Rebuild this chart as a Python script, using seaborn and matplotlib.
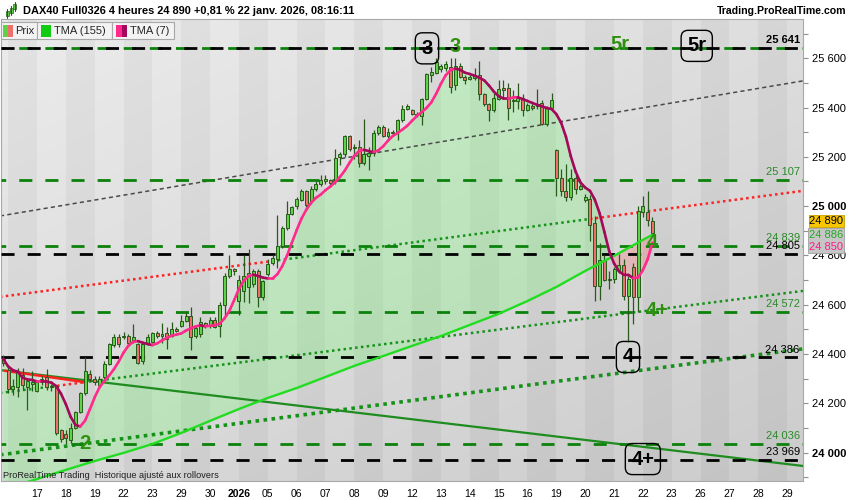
import numpy as np
import pandas as pd
import matplotlib
matplotlib.use("Agg")
import matplotlib.pyplot as plt
import seaborn as sns
from matplotlib.patches import Rectangle, Polygon
from matplotlib.collections import LineCollection

# ------------------------------------------------------------------ data
title = "DAX40 Full0326 4 heures 24 890 +0,81 % 22 janv. 2026, 08:16:11"
site = "Trading.ProRealTime.com"
footer = "ProRealTime Trading  Historique ajusté aux rollovers"

day_labels = ["", "17", "18", "19", "22", "23", "29", "30", "2026", "05", "06", "07",
              "08", "09", "12", "13", "14", "15", "16", "19", "20", "21", "22", "23",
              "26", "27", "28", "29"]
bars_per_day = 6

opens = [24365,
         24335, 24260, 24265, 24315, 24265, 24280,
         24250, 24285, 24305, 24270, 24270, 24090,
         24075, 24050, 24100, 24165, 24240, 24320,
         24300, 24275, 24305, 24360, 24435, 24470,
         24470, 24475, 24455, 24440, 24370, 24440,
         24450, 24485, 24475, 24485, 24475, 24500,
         24515, 24535, 24555, 24475, 24480, 24525,
         24515, 24540, 24515, 24600, 24715, 24745,
         24615, 24655, 24670, 24685, 24735, 24630,
         24725, 24770, 24785, 24840, 24910, 24970,
         25000, 25025, 25060, 25020, 25070, 25090,
         25100, 25105, 25100, 25200, 25210, 25285,
         25240, 25240, 25175, 25205, 25215, 25295,
         25320, 25285, 25300, 25300, 25350, 25395,
         25390, 25375, 25365, 25435, 25530, 25540,
         25555, 25560, 25565, 25490, 25570, 25525,
         25515, 25520, 25530, 25455, 25415, 25390,
         25435, 25480, 25480, 25430, 25425, 25440,
         25390, 25405, 25405, 25420, 25335, 25400,
         25228, 25115, 25060, 25035, 25115, 25070,
         25025, 25030, 24930, 24675, 24780, 24700,
         24705, 24740, 24760, 24635, 24755, 24630,
         24975, 24975, 24940]
highs = [24395,
         24350, 24300, 24345, 24345, 24300, 24330,
         24290, 24310, 24340, 24280, 24275, 24095,
         24090, 24120, 24170, 24245, 24390, 24335,
         24310, 24310, 24370, 24445, 24480, 24480,
         24490, 24480, 24520, 24445, 24445, 24480,
         24490, 24495, 24525, 24510, 24530, 24510,
         24560, 24570, 24590, 24515, 24550, 24530,
         24550, 24550, 24610, 24730, 24800, 24750,
         24720, 24800, 24825, 24745, 24745, 24700,
         24785, 24800, 24965, 24920, 25020, 25000,
         25035, 25070, 25065, 25080, 25100, 25125,
         25125, 25110, 25230, 25220, 25290, 25290,
         25250, 25270, 25355, 25240, 25310, 25330,
         25330, 25315, 25310, 25355, 25410, 25415,
         25395, 25380, 25440, 25540, 25565, 25600,
         25575, 25590, 25600, 25600, 25580, 25530,
         25530, 25560, 25590, 25460, 25420, 25460,
         25510, 25510, 25500, 25470, 25500, 25455,
         25420, 25415, 25475, 25430, 25405, 25460,
         25230, 25150, 25170, 25150, 25125, 25090,
         25050, 25045, 24960, 24850, 24800, 24735,
         24755, 24805, 24785, 24715, 24770, 25000,
         25040, 25060, 24955]
lows = [24350,
        24240, 24235, 24225, 24255, 24175, 24250,
        24245, 24275, 24255, 24250, 24070, 24045,
        24035, 24040, 24095, 24160, 24235, 24290,
        24275, 24270, 24300, 24355, 24430, 24430,
        24460, 24440, 24445, 24360, 24360, 24435,
        24445, 24465, 24445, 24420, 24470, 24490,
        24510, 24530, 24415, 24465, 24470, 24505,
        24505, 24505, 24470, 24555, 24710, 24720,
        24560, 24610, 24605, 24670, 24590, 24620,
        24715, 24760, 24750, 24830, 24905, 24965,
        24990, 25020, 24995, 25010, 25060, 25080,
        25090, 25085, 25090, 25165, 25200, 25225,
        25190, 25160, 25165, 25145, 25205, 25290,
        25280, 25275, 25285, 25270, 25340, 25390,
        25370, 25360, 25330, 25430, 25505, 25535,
        25545, 25550, 25460, 25470, 25520, 25495,
        25510, 25510, 25430, 25405, 25345, 25380,
        25430, 25440, 25350, 25380, 25395, 25365,
        25385, 25390, 25395, 25330, 25325, 25395,
        25040, 25040, 25020, 25025, 25050, 25065,
        25015, 24860, 24615, 24620, 24695, 24665,
        24690, 24730, 24620, 24450, 24520, 24570,
        24955, 24920, 24875]
closes = [24380,
          24260, 24270, 24330, 24275, 24290, 24285,
          24285, 24300, 24265, 24265, 24080, 24055,
          24060, 24100, 24165, 24240, 24330, 24300,
          24285, 24300, 24360, 24440, 24470, 24440,
          24475, 24445, 24470, 24365, 24440, 24470,
          24485, 24475, 24480, 24460, 24500, 24495,
          24535, 24555, 24470, 24505, 24530, 24515,
          24540, 24510, 24600, 24715, 24745, 24735,
          24700, 24715, 24730, 24735, 24630, 24695,
          24765, 24790, 24840, 24910, 24970, 24995,
          25030, 25060, 25005, 25070, 25090, 25105,
          25110, 25095, 25195, 25210, 25285, 25230,
          25235, 25175, 25210, 25215, 25295, 25320,
          25285, 25300, 25295, 25350, 25395, 25405,
          25375, 25370, 25435, 25535, 25545, 25585,
          25570, 25575, 25485, 25570, 25525, 25510,
          25525, 25530, 25455, 25415, 25390, 25440,
          25475, 25470, 25400, 25425, 25440, 25390,
          25410, 25400, 25415, 25335, 25400, 25430,
          25115, 25060, 25035, 25115, 25070, 25080,
          25035, 24925, 24675, 24780, 24700, 24705,
          24745, 24760, 24635, 24705, 24630, 24980,
          25000, 24945, 24890]

# TMA(155) at day starts (bar index, value)
tma155_idx = [0, 1, 7, 13, 19, 25, 31, 37, 43, 49, 55, 61, 67, 73, 79, 85, 91, 97,
              103, 109, 115, 121, 127, 133, 135]
tma155_val = [23848, 23857, 23893, 23930, 23966, 23999, 24035, 24080, 24129, 24177,
              24222, 24262, 24307, 24352, 24392, 24433, 24473, 24518, 24563, 24615,
              24672, 24737, 24798, 24863, 24884]

# horizontal levels
level_vals = [25641, 25641, 25107, 24839, 24805, 24572, 24386, 24036, 23969]
level_kind = ["black", "green", "green", "green", "black", "green", "black", "green", "black"]
level_text = ["25 641", "", "25 107", "24 839", "24 805", "24 572", "24 386", "24 036", "23 969"]

# trend lines (bar index, price) read at their ends / colour changes
up_dot_k = [-0.69, 55.9, 122.0, 166.3]
up_dot_p = [24632, 24777, 24948, 25062]
up_dot_c = ["red", "green", "red"]
lo_dot_k = [-0.69, 11.2, 16.6, 166.3]
lo_dot_p = [24242, 24271, 24285, 24656]
lo_dot_c = ["green", "red", "green"]
big_dot_k = [-0.69, 166.3]
big_dot_p = [23991, 24421]
gray_dash_k = [-0.69, 166.3]
gray_dash_p = [24960, 25508]
solid_green_k = [-0.69, 166.3]
solid_green_p = [24335, 23946]
solid_red_k = [0.35, 17.0]
solid_red_p = [24332, 24286]

# wave labels: (text, bar index, price, boxed)
wave_labels = [("3", 88.1, 25640, True), ("3", 93.9, 25646, False),
               ("5r", 128.2, 25654, False), ("5r", 144.2, 25650, True),
               ("4", 134.9, 24851, False), ("4+", 135.9, 24575, False),
               ("4", 129.9, 24388, True), ("4+", 133.0, 23974, True),
               ("2", 17.0, 24039, False)]

last_price = 24890
last_tma155 = 24886
last_tma7 = 24850

# ------------------------------------------------------------------ style
sns.set_theme(style="white")
plt.rcParams["font.family"] = ["Liberation Sans", "DejaVu Sans"]
plt.rcParams["lines.scale_dashes"] = False

GREEN_LVL = "#0b820b"
DOT_GREEN = "#16921a"
DOT_RED = "#ff2222"
EDGE = "#285a1c"
UP_FILL = "#5fd24a"
DN_FILL = "#ee6f6c"
PINK = "#ff2a8c"
DARKPINK = "#a3085a"
TMA155_C = "#22dc22"
LBL_GREEN = "#2f8f0f"


def fmt(v):
    return f"{int(v):,}".replace(",", " ")


W_PX, H_PX = 850, 500
fig = plt.figure(figsize=(8.5, 5), dpi=100, facecolor="white")
ax = fig.add_axes([1 / W_PX, 19 / H_PX, 802 / W_PX, 462 / H_PX])

x0, x1 = -0.48, 166.3
y0, y1 = 23885, 25759

# background: day bands with soft gradient
AW, AH = 802, 462
kk = x0 + (np.arange(AW) + 0.5) * (x1 - x0) / AW
dband = np.floor((kk - 1) / bars_per_day)
dark = (dband % 2 == 0).astype(float)
xf = np.arange(AW) / AW
yf = np.arange(AH) / AH
g = 0.925 - 0.055 * xf[None, :] - 0.07 * yf[:, None] - 0.035 * dark[None, :]
bg = np.dstack([g, g, g])
ax.imshow(bg, extent=(x0, x1, y0, y1), aspect="auto", origin="upper",
          zorder=0, interpolation="nearest")

k = np.arange(len(closes))
o = np.array(opens, float)
h = np.array(highs, float)
l = np.array(lows, float)
c = np.array(closes, float)

# TMA(7): triangular moving average of the closes
tma7 = (pd.Series(c).rolling(4, min_periods=1).mean()
        .rolling(4, min_periods=1).mean().to_numpy())

# fills between TMA(7) and TMA(155)
ti = np.array(tma155_idx)
tv = np.array(tma155_val, float)
split = 127
m1 = ti <= split
poly_g = np.vstack([np.column_stack([k[:split + 1], tma7[:split + 1]]),
                    np.column_stack([ti[m1][::-1], tv[m1][::-1]])])
ax.add_patch(Polygon(poly_g, closed=True, facecolor="#66ff66", alpha=0.25,
                     edgecolor="none", zorder=1))
m2 = ti >= split
poly_r = np.vstack([np.column_stack([k[split:], tma7[split:]]),
                    np.column_stack([ti[m2][::-1], tv[m2][::-1]])])
ax.add_patch(Polygon(poly_r, closed=True, facecolor="#ff5a5a", alpha=0.25,
                     edgecolor="none", zorder=1))

# trend lines
def piecewise(ks, ps, cols, lw, pattern):
    for i, col in enumerate(cols):
        colr = DOT_RED if col == "red" else DOT_GREEN
        ax.plot(ks[i:i + 2], ps[i:i + 2], color=colr, lw=lw,
                linestyle=(0, pattern), dash_capstyle="butt", zorder=2)

piecewise(up_dot_k, up_dot_p, up_dot_c, 1.8, (1.8, 2.4))
piecewise(lo_dot_k, lo_dot_p, lo_dot_c, 1.8, (1.8, 2.4))
ax.plot(big_dot_k, big_dot_p, color=DOT_GREEN, lw=2.6, linestyle=(0, (2.6, 3.2)),
        dash_capstyle="butt", zorder=2)
ax.plot(gray_dash_k, gray_dash_p, color="#4a4a4a", lw=1.1, linestyle=(0, (3.0, 2.3)),
        zorder=2)
ax.plot(solid_green_k, solid_green_p, color="#1e8c1e", lw=1.6, zorder=2)
ax.plot(solid_red_k, solid_red_p, color="#ff2020", lw=1.8, zorder=2.1)

# horizontal levels
for v, kind in zip(level_vals, level_kind):
    if kind == "black":
        ax.axhline(v, color="black", lw=2.0, linestyle=(0, (9.4, 9.4)), zorder=3)
    else:
        ax.axhline(v, color=GREEN_LVL, lw=2.0, linestyle=(6.0, (9.4, 9.4)), zorder=2.9)

for v, kind, txt in zip(level_vals, level_kind, level_text):
    if not txt:
        continue
    ax.text(165.6, v + 12, txt, ha="right", va="bottom", fontsize=8,
            color="black" if kind == "black" else "#2a8a2a",
            fontweight="bold" if v == 25641 else "normal", zorder=9)

# candles
ax.vlines(k, l, h, color=EDGE, lw=0.9, zorder=4)
up = c >= o
ax.bar(k, np.abs(c - o), bottom=np.minimum(o, c), width=0.62,
       color=np.where(up, UP_FILL, DN_FILL), edgecolor=EDGE, linewidth=0.7, zorder=5)

# moving averages
sns.lineplot(x=tma155_idx, y=tma155_val, ax=ax, color=TMA155_C, lw=1.7,
             zorder=6, legend=False, sort=False)
pts = np.column_stack([k, tma7])
segs = np.stack([pts[:-1], pts[1:]], axis=1)
cols = np.where(np.diff(tma7) >= 0, PINK, DARKPINK)
ax.add_collection(LineCollection(segs, colors=cols, linewidths=1.9, zorder=6.5,
                                 capstyle="round"))

# wave labels
for txt, kx, py, boxed in wave_labels:
    if boxed:
        ax.text(kx, py, txt, ha="center", va="center", fontsize=14.5, fontweight="bold",
                color="black", zorder=10,
                bbox=dict(boxstyle="round,pad=0.3,rounding_size=0.35", fc="none",
                          ec="black", lw=1.0))
    else:
        ax.text(kx, py, txt, ha="center", va="center", fontsize=14.5, fontweight="bold",
                color=LBL_GREEN, zorder=10)

ax.text(0.0025, 0.011, footer, transform=ax.transAxes, ha="left", va="center",
        fontsize=6.6, color="#202020", zorder=10)

# axes and ticks
ax.set_xlim(x0, x1)
ax.set_ylim(y0, y1)
ax.grid(False)
ax.yaxis.tick_right()
yt = np.arange(24000, 25601, 200)
ax.set_yticks(yt)
ax.set_yticks(np.arange(23900, 25701, 100), minor=True)
ax.set_yticklabels([fmt(v) for v in yt], fontsize=8)
for lab, v in zip(ax.get_yticklabels(), yt):
    if v % 1000 == 0:
        lab.set_fontweight("bold")
xt = [1 + bars_per_day * d for d in range(len(day_labels))]
ax.set_xticks(xt)
ax.set_xticklabels(day_labels, fontsize=7.5)
for lab in ax.get_xticklabels():
    if lab.get_text() == "2026":
        lab.set_fontweight("bold")
ax.tick_params(axis="both", which="both", direction="out", length=3.5,
               color="#909090", width=0.8, labelcolor="black")
ax.tick_params(axis="y", which="both", pad=3)
ax.tick_params(axis="x", pad=2)
for side in ["left", "right", "bottom", "top"]:
    ax.spines[side].set_color("#a8a8a8")
    ax.spines[side].set_linewidth(0.8)


# ------------------------------------------------------------------ header
def fx(x):
    return x / W_PX


def fy(y):
    return 1 - y / H_PX


def frect(x, y, w, hgt, **kw):
    fig.add_artist(Rectangle((fx(x), fy(y + hgt)), w / W_PX, hgt / H_PX,
                             transform=fig.transFigure, **kw))


# small candle icon
for cx, top, bot, wt, wb in [(7, 11, 16, 9, 18), (11, 8, 13, 6, 15), (15, 4, 9, 2, 11)]:
    fig.add_artist(plt.Line2D([fx(cx), fx(cx)], [fy(wt), fy(wb)], transform=fig.transFigure,
                              color=EDGE, lw=0.8))
    frect(cx - 1.5, top, 3, bot - top, fc=UP_FILL, ec=EDGE, lw=0.5)

fig.text(fx(23), fy(11), title, fontsize=7.9, fontweight="bold", ha="left", va="center",
         color="black")
fig.text(fx(846), fy(11), site, fontsize=7.6, fontweight="bold", ha="right", va="center",
         color="black")

# legend boxes
frect(1, 22.5, 36, 16.5, fc="#f3f3f3", ec="#a8a8a8", lw=0.8, zorder=5)
frect(37, 22.5, 75, 16.5, fc="#f3f3f3", ec="#a8a8a8", lw=0.8, zorder=5)
frect(112, 22.5, 62, 16.5, fc="#f3f3f3", ec="#a8a8a8", lw=0.8, zorder=5)
frect(2.5, 25, 5, 12, fc="#5fd24a", ec="none", zorder=6)
frect(7.5, 25, 5, 12, fc="#ee6f6c", ec="none", zorder=6)
frect(41, 25, 10, 12, fc="#11cc11", ec="none", zorder=6)
frect(116, 25, 5.5, 12, fc=PINK, ec="none", zorder=6)
frect(121.5, 25, 5.5, 12, fc=DARKPINK, ec="none", zorder=6)
fig.text(fx(15), fy(31), "Prix", fontsize=8, ha="left", va="center", zorder=7)
fig.text(fx(54), fy(31), "TMA (155)", fontsize=8, ha="left", va="center", zorder=7)
fig.text(fx(130), fy(31), "TMA (7)", fontsize=8, ha="left", va="center", zorder=7)

# price boxes on the right axis
frect(808.5, 215, 35, 12, fc="#f7c600", ec="#c8a000", lw=0.6, zorder=5)
fig.text(fx(826), fy(221), fmt(last_price), fontsize=8, ha="center", va="center",
         color="black", zorder=7)
frect(808, 228, 36, 25, fc="#c6c6c6", ec="#a0a0a0", lw=0.6, zorder=5)
fig.text(fx(826), fy(235), fmt(last_tma155), fontsize=8, ha="center", va="center",
         color="#22aa22", zorder=7)
fig.text(fx(826), fy(246.5), fmt(last_tma7), fontsize=8, ha="center", va="center",
         color="#ff1a8a", zorder=7)

fig.savefig("out.png", dpi=100, facecolor="white")
